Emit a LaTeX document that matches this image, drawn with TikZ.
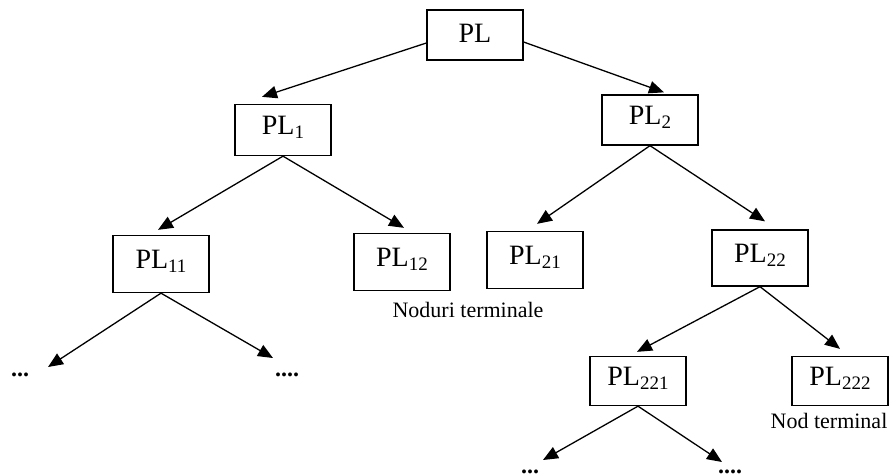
\documentclass[tikz,border=0pt]{standalone}
\usepackage{fontspec}
\setmainfont{Liberation Serif}
\usetikzlibrary{arrows.meta}
% lowered, smaller index after "PL"
\newcommand{\plidx}[1]{\raisebox{-4pt}{\fontsize{19}{20}\selectfont #1}}
\begin{document}
\begin{tikzpicture}[x=1pt,y=-1pt,
  plbox/.style={draw, line width=1.3pt, minimum width=96pt, inner sep=0pt,
                text height=19pt, text depth=10pt,
                font=\fontsize{28}{30}\selectfont},
  link/.style={line width=1.3pt, -{Triangle[length=15pt,width=12.5pt]}},
  dotmark/.style={inner sep=0pt, anchor=south, font=\bfseries\fontsize{24}{26}\selectfont},
  note/.style={inner sep=0pt, anchor=base, font=\fontsize{22}{24}\selectfont}]
\useasboundingbox (0,0) rectangle (891,475);

% tree nodes
\node[plbox, minimum height=50pt, text depth=4pt] (PL) at (475,35) {PL};
\node[plbox, minimum height=51pt] (PL1)   at (283,130) {PL\plidx{1}};
\node[plbox, minimum height=50pt] (PL2)   at (650,120) {PL\plidx{2}};
\node[plbox, minimum height=57pt] (PL11)  at (161,264) {PL\plidx{11}};
\node[plbox, minimum height=57pt] (PL12)  at (402,262) {PL\plidx{12}};
\node[plbox, minimum height=57pt] (PL21)  at (535,260) {PL\plidx{21}};
\node[plbox, minimum height=56pt] (PL22)  at (760,258) {PL\plidx{22}};
\node[plbox, minimum height=49pt] (PL221) at (638,381) {PL\plidx{221}};
\node[plbox, minimum height=49pt] (PL222) at (840,381) {PL\plidx{222}};

% labels
\node[note] (lblA) at (468,317) {Noduri terminale};
\node[note] (lblB) at (829,428) {Nod terminal};

% continuation marks
\node[dotmark] (d1) at (20,377)  {...};
\node[dotmark] (d2) at (287,377) {....};
\node[dotmark] (d3) at (530,474) {...};
\node[dotmark] (d4) at (730,474) {....};

% free arrow ends above the continuation marks
\coordinate (t1) at (48,367);
\coordinate (t2) at (273,358);
\coordinate (t3) at (543,460);
\coordinate (t4) at (722,462);

% connectors
\draw[link] ([yshift=-8pt]PL.west) -- ([xshift=-21pt,yshift=7pt]PL1.north);
\draw[link] ([yshift=-7pt]PL.east) -- ([xshift=14pt,yshift=2pt]PL2.north);
\draw[link] (PL1.south) -- ([xshift=-3pt,yshift=5pt]PL11.north);
\draw[link] (PL1.south) -- ([xshift=2pt,yshift=5pt]PL12.north);
\draw[link] (PL2.south) -- ([xshift=2pt,yshift=7pt]PL21.north);
\draw[link] (PL2.south) -- ([xshift=5pt,yshift=8pt]PL22.north);
\draw[link] (PL11.south) -- (t1);
\draw[link] (PL11.south) -- (t2);
\draw[link] (PL22.south) -- ([xshift=-1pt,yshift=4pt]PL221.north);
\draw[link] (PL22.south) -- ([yshift=7pt]PL222.north);
\draw[link] (PL221.south) -- (t3);
\draw[link] (PL221.south) -- (t4);
\end{tikzpicture}
\end{document}
